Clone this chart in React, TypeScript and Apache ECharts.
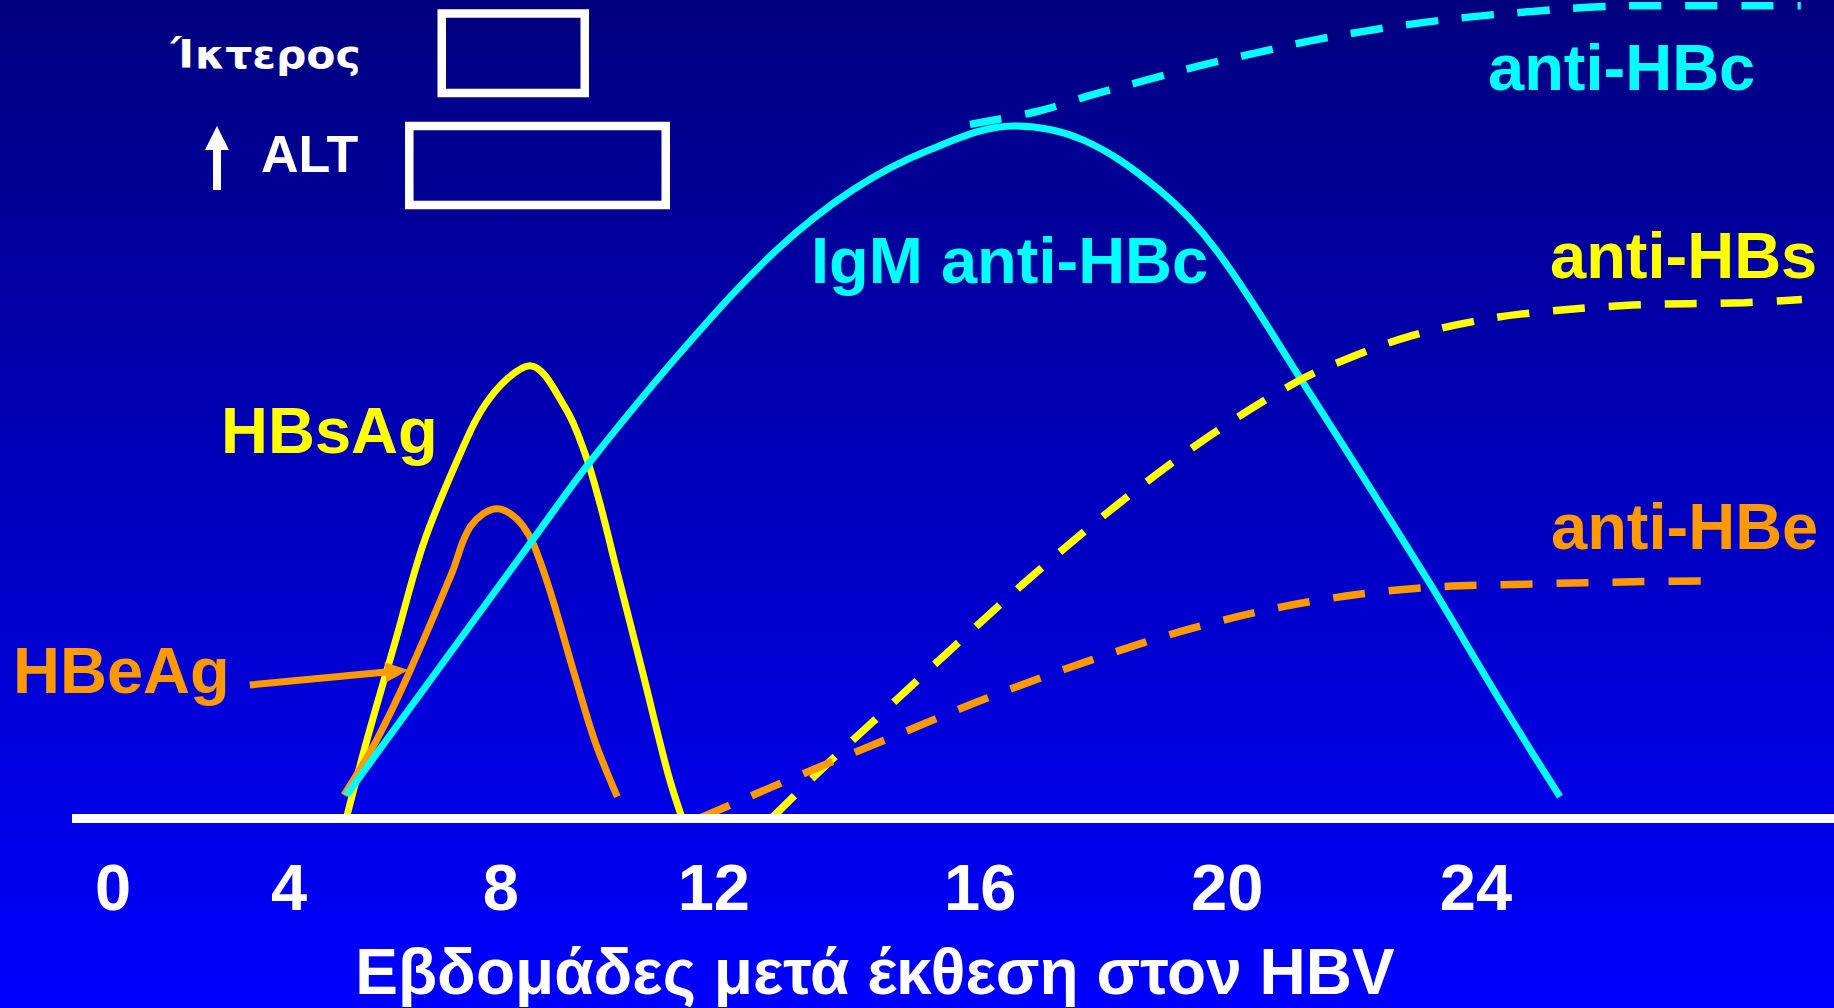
import React, { useEffect, useRef } from 'react';
import * as echarts from 'echarts';

const W = 1834;
const H = 1008;
const FONT = '"Liberation Sans", Arial, Helvetica, sans-serif';

// x axis in "drawn week" units (0 at the "0" label, 24 at the "24" label)
const X_MIN = -0.722;
const X_MAX = 30.305;
const Y_MIN = 0;
const Y_MAX = 100;

const TICK_LABELS = ['0', '4', '8', '12', '16', '20', '24'];
const TICK_POS = [0, 3.1, 6.83, 10.58, 15.27, 19.62, 24.0];

const AXIS_TITLE = 'Εβδομάδες μετά έκθεση στον HBV';

// Serological markers: [x, level]
const HBSAG = [
  [4.11, 0], [4.47, 9.5], [4.98, 21.8], [5.49, 34.0], [6.22, 46.2], [6.55, 50.5],
  [6.96, 53.8], [7.34, 55.3], [7.96, 50.2], [8.31, 44.6], [8.58, 38.3],
  [8.88, 30.0], [9.33, 17.7], [9.77, 5.5], [10.02, 0],
];
const HBEAG = [
  [4.07, 2.8], [4.64, 9.5], [5.21, 17.7], [5.97, 30.0], [6.3, 35.7], [6.76, 37.8],
  [7.22, 35.7], [7.59, 30.0], [8.12, 17.7], [8.48, 9.5], [8.88, 2.6],
];
const IGM_ANTI_HBC = [
  [4.11, 2.8], [7.39, 34.0], [8.43, 43.8], [10.18, 58.4], [11.68, 69.4], [13.03, 76.8],
  [14.38, 81.7], [15.86, 84.6], [17.08, 82.9], [18.42, 76.8], [19.43, 69.4],
  [20.93, 53.5], [23.15, 29.1], [24.42, 14.4], [25.48, 2.6],
];
const ANTI_HBC = [
  [15.09, 84.8], [16.29, 86.4], [17.24, 88.4], [18.19, 90.2], [19.16, 92.0], [20.11, 93.5],
  [21.08, 95.0], [22.05, 96.2], [23.02, 97.2], [24.0, 98.0], [24.99, 98.6], [25.97, 99.1],
  [26.98, 99.3], [29.72, 99.3],
];
const ANTI_HBS = [
  [11.6, 0], [12.59, 6.7], [13.51, 12.6], [14.77, 20.7], [16.24, 29.9], [17.74, 38.6],
  [19.33, 46.8], [20.84, 53.3], [21.9, 56.6], [22.84, 58.9], [23.81, 60.5], [24.78, 61.6],
  [26.75, 62.7], [28.73, 63.0], [29.74, 63.4],
];
const ANTI_HBE = [
  [10.34, 0], [11.74, 4.2], [13.65, 9.7], [15.37, 14.6], [17.22, 19.3], [19.11, 23.4],
  [21.04, 26.4], [22.98, 28.1], [24.96, 28.6], [26.94, 28.9], [28.19, 29.0],
];

// Clinical boxes (x range, level range)
const JAUNDICE_BOX = [[5.789, 88.63], [8.307, 98.35]];
const ALT_BOX = [[5.217, 74.94], [9.733, 84.6]];
const ALT_ARROW = [[1.83, 76.77], [1.83, 83.13]];
const HBEAG_POINTER = [[2.41, 16.26], [5.0, 17.96]];

const COLORS = {
  yellow: '#FFFF00',
  orange: '#FF9900',
  cyan: '#00FFFF',
  white: '#FFFFFF',
};

const SMOOTH = 0.35;

function text(
  t: string,
  x: number,
  baseline: number,
  size: number,
  color: string,
  family = FONT,
  scaleX = 1,
) {
  return {
    type: 'text',
    x,
    y: baseline - 0.3465 * size,
    scaleX,
    silent: true,
    z: 10,
    style: {
      text: t,
      fill: color,
      fontSize: size,
      fontWeight: 'bold',
      fontFamily: family,
      align: 'left',
      verticalAlign: 'middle',
    },
  };
}

function solid(name: string, data: number[][], color: string, extra: any = {}) {
  return {
    type: 'line',
    name,
    data,
    smooth: SMOOTH,
    showSymbol: false,
    symbol: 'none',
    clip: false,
    silent: true,
    lineStyle: { color, width: 7, cap: 'butt' },
    ...extra,
  };
}

function dashed(name: string, data: number[][], color: string) {
  return {
    type: 'line',
    name,
    data,
    smooth: SMOOTH,
    showSymbol: false,
    symbol: 'none',
    clip: false,
    silent: true,
    lineStyle: { color, width: 7.5, type: [32, 24], cap: 'butt' },
  };
}

export default function App() {
  const ref = useRef<HTMLDivElement>(null);

  useEffect(() => {
    if (!ref.current) return;
    const chart = echarts.init(ref.current, null, { renderer: 'svg', width: W, height: H });

    const option: any = {
      animation: false,
      backgroundColor: 'transparent',
      grid: { left: 72, right: 0, top: 0, bottom: 190, containLabel: false, outerBoundsMode: 'none' },
      xAxis: {
        type: 'value',
        min: X_MIN,
        max: X_MAX,
        z: 5,
        axisLine: { show: true, onZero: false, lineStyle: { color: COLORS.white, width: 9, cap: 'butt' } },
        axisTick: { show: false },
        splitLine: { show: false },
        axisLabel: {
          customValues: TICK_POS,
          formatter: (v: number) => {
            const i = TICK_POS.findIndex((p) => Math.abs(p - v) < 1e-6);
            return i >= 0 ? TICK_LABELS[i] : '';
          },
          color: COLORS.white,
          fontSize: 65,
          fontWeight: 'bold',
          fontFamily: FONT,
          margin: 69,
          verticalAlign: 'middle',
        },
        name: AXIS_TITLE,
        nameLocation: 'middle',
        nameGap: 154,
        nameTextStyle: {
          color: COLORS.white,
          fontSize: 64,
          fontWeight: 'bold',
          fontFamily: FONT,
          verticalAlign: 'middle',
          padding: [0, 156, 0, 0],
        },
      },
      yAxis: { type: 'value', min: Y_MIN, max: Y_MAX, show: false },
      series: [
        solid('HBsAg', HBSAG, COLORS.yellow, {
          markArea: {
            silent: true,
            label: { show: false },
            itemStyle: { color: 'rgba(0,0,0,0)', borderColor: COLORS.white, borderWidth: 8.5 },
            data: [
              [{ coord: JAUNDICE_BOX[0] }, { coord: JAUNDICE_BOX[1] }],
              [{ coord: ALT_BOX[0] }, { coord: ALT_BOX[1] }],
            ],
          },
          markLine: {
            silent: true,
            symbol: ['none', 'triangle'],
            symbolSize: [24, 24],
            label: { show: false },
            lineStyle: { color: COLORS.white, width: 8, type: 'solid' },
            data: [[{ coord: ALT_ARROW[0] }, { coord: ALT_ARROW[1] }]],
          },
        }),
        solid('HBeAg', HBEAG, COLORS.orange, {
          markLine: {
            silent: true,
            symbol: ['none', 'triangle'],
            symbolSize: [20, 23],
            label: { show: false },
            lineStyle: { color: COLORS.orange, width: 7, type: 'solid' },
            data: [[{ coord: HBEAG_POINTER[0] }, { coord: HBEAG_POINTER[1] }]],
          },
        }),
        solid('IgM anti-HBc', IGM_ANTI_HBC, COLORS.cyan),
        dashed('anti-HBc', ANTI_HBC, COLORS.cyan),
        dashed('anti-HBs', ANTI_HBS, COLORS.yellow),
        dashed('anti-HBe', ANTI_HBE, COLORS.orange),
      ],
      graphic: [
        text('Ίκτερος', 171, 68, 39, COLORS.white, '"DejaVu Sans", Verdana, sans-serif', 1.09),
        text('ALT', 261, 172, 52, COLORS.white),
        text('HBsAg', 221, 453, 65, COLORS.yellow),
        text('HBeAg', 13, 693, 65, COLORS.orange),
        text('IgM anti-HBc', 811, 283, 65, COLORS.cyan),
        text('anti-HBc', 1488, 90, 65, COLORS.cyan),
        text('anti-HBs', 1550, 278, 65, COLORS.yellow),
        text('anti-HBe', 1551, 549, 65, COLORS.orange),
      ],
    };

    chart.setOption(option);
    return () => chart.dispose();
  }, []);

  return (
    <div
      style={{
        position: 'fixed',
        left: 0,
        top: 0,
        width: W,
        height: H,
        background: 'linear-gradient(to bottom, #00007E 0%, #0000FF 100%)',
      }}
    >
      <div ref={ref} style={{ width: W, height: H }} />
    </div>
  );
}
